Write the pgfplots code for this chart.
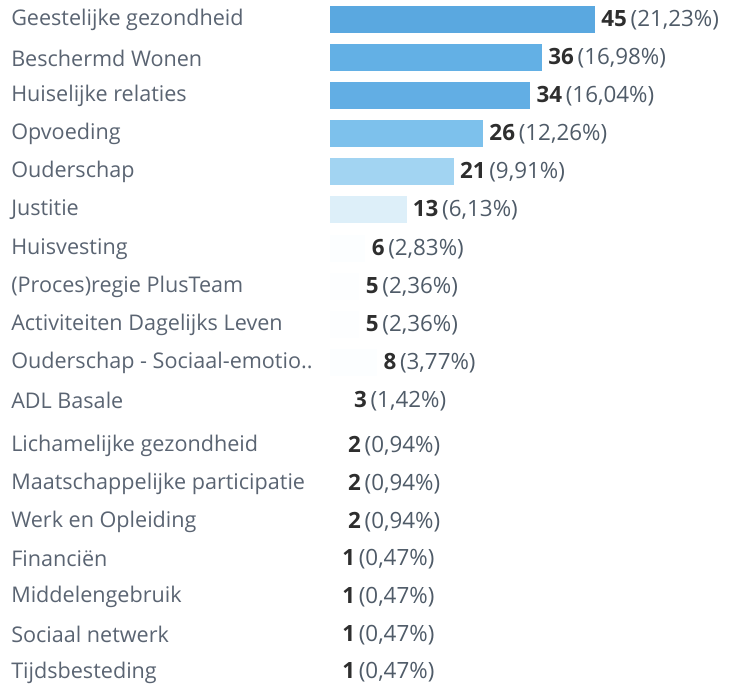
\documentclass[border=0pt]{standalone}
\usepackage{pgfplots}
\usepackage{pgfplotstable}
\pgfplotsset{compat=1.18}
\usepackage{fontspec}
\setmainfont{Open Sans}

% bar colours, dark to almost white
\definecolor{c0}{HTML}{5AA8E0}
\definecolor{c1}{HTML}{63B0E5}
\definecolor{c2}{HTML}{62AEE4}
\definecolor{c3}{HTML}{7DC1EC}
\definecolor{c4}{HTML}{A2D4F2}
\definecolor{c5}{HTML}{DDEFF9}
\definecolor{c6}{HTML}{FCFEFF}
\definecolor{c7}{HTML}{FDFEFF}
\definecolor{c8}{HTML}{FDFEFF}
\definecolor{c9}{HTML}{FCFEFF}
\definecolor{c10}{HTML}{FFFFFF}
\definecolor{c11}{HTML}{FFFFFF}
\definecolor{c12}{HTML}{FFFFFF}
\definecolor{c13}{HTML}{FFFFFF}
\definecolor{c14}{HTML}{FFFFFF}
\definecolor{c15}{HTML}{FFFFFF}
\definecolor{c16}{HTML}{FFFFFF}
\definecolor{c17}{HTML}{FFFFFF}
\definecolor{labtext}{HTML}{5A6472}
\definecolor{numtext}{HTML}{2E2E2E}
\definecolor{pcttext}{HTML}{4F5B68}

% pos = row centre in pixels from the top
\pgfplotstableread{
pos n  pct
20  45 21,23
58  36 16,98
96  34 16,04
134 26 12,26
172 21 9,91
210 13 6,13
249 6  2,83
287 5  2,36
325 5  2,36
363 8  3,77
401 3  1,42
446 2  0,94
484 2  0,94
522 2  0,94
559 1  0,47
597 1  0,47
635 1  0,47
673 1  0,47
}\data

\begin{document}
\begin{tikzpicture}
\begin{axis}[
  x=2.945pt, y=0.5pt, y dir=reverse,
  xmin=-56.03, xmax=68.25,
  ymin=0, ymax=687,
  axis line style={draw=none},
  major tick length=0pt,
  xtick=\empty,
  ytick={20,58,96,134,172,210,249,287,325,363,401,446,484,522,559,597,635,673},
  yticklabels={Geestelijke gezondheid, Beschermd Wonen, Huiselijke relaties,
    Opvoeding, Ouderschap, Justitie, Huisvesting, (Proces)regie PlusTeam,
    Activiteiten Dagelijks Leven, Ouderschap - Sociaal-emotio.., ADL Basale,
    Lichamelijke gezondheid, Maatschappelijke participatie, Werk en Opleiding,
    Financiën, Middelengebruik, Sociaal netwerk, Tijdsbesteding},
  yticklabel style={anchor=west, xshift=2pt, font=\fontsize{10.8}{13}\selectfont,
    text=labtext},
  /pgf/number format/assume math mode=true,
  every axis plot/.append style={xbar, bar width=13.5pt, bar shift=0pt, draw=none},
  clip=false,
]
\pgfplotsinvokeforeach{0,...,17}{
  \addplot[fill=c#1] table[x=n, y=pos,
    restrict expr to domain={\coordindex}{#1:#1}] {\data};
}
\addplot[fill=none, point meta=explicit symbolic,
  visualization depends on={x \as \nval},
  nodes near coords={\textcolor{numtext}{\textbf{\pgfmathprintnumber[fixed,precision=0]{\nval}}}\,\textcolor{pcttext}{(\pgfplotspointmeta\%)}},
  every node near coord/.append style={font=\fontsize{11.2}{13}\selectfont,
    anchor=west, inner sep=2pt, xshift=1pt},
] table[x=n, y=pos, meta=pct] {\data};
\end{axis}
\end{tikzpicture}
\end{document}
